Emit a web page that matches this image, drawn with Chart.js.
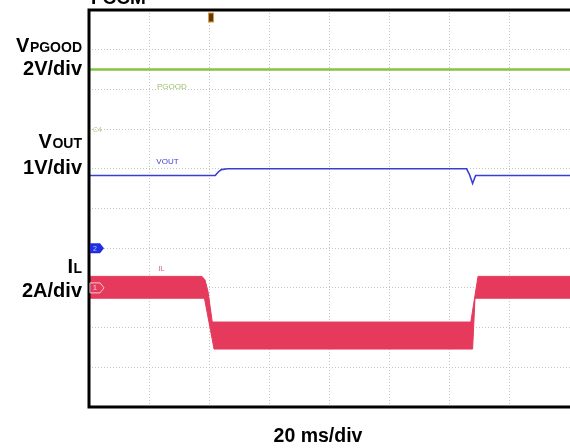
<!DOCTYPE html>
<html>
<head>
<meta charset="utf-8">
<script src="https://cdn.jsdelivr.net/npm/chart.js@4.4.1/dist/chart.umd.min.js"></script>
<style>
  html, body { margin: 0; padding: 0; background: #fff; }
  #wrap { width: 570px; height: 448px; }
</style>
</head>
<body>
<div id="wrap"><canvas id="scope" width="570" height="448"></canvas></div>
<script>
// time in screen divisions (20 ms/div), levels in screen divisions from the bottom
const pgoodTime = [0, 8];
const pgoodLevel = [8.5, 8.5];

const voutTime = [0, 2.1, 2.15, 2.2, 2.3, 6.28, 6.33, 6.38, 6.43, 8];
const voutLevel = [5.83, 5.83, 5.92, 5.98, 6.0, 6.0, 5.85, 5.63, 5.83, 5.83];

const ilTopTime = [0, 1.88, 1.93, 1.98, 2.05, 6.35, 6.47, 8];
const ilTopLevel = [3.29, 3.29, 3.2, 2.9, 2.14, 2.14, 3.29, 3.29];
const ilBottomTime = [0, 1.92, 2.08, 6.38, 6.42, 8];
const ilBottomLevel = [2.74, 2.74, 1.46, 1.46, 2.74, 2.74];

const channelMain = ['V', 'V', 'I'];
const channelSub = ['PGOOD', 'OUT', 'L'];
const channelScale = ['2V/div', '1V/div', '2A/div'];
const timeScale = '20 ms/div';
const modeTitle = 'FCCM';

const GREEN = '#84c441';
const BLUE = '#3a3fd0';
const RED = '#e63a5c';

const pts = (t, v) => t.map((x, i) => ({ x: x, y: v[i] }));

// frame, side labels and scope markers
const scopeDecor = {
  id: 'scopeDecor',
  afterDraw(chart) {
    const ctx = chart.ctx;
    const a = chart.chartArea;
    const xs = chart.scales.x, ys = chart.scales.y;
    ctx.save();

    ctx.strokeStyle = '#000';
    ctx.lineWidth = 3;
    ctx.beginPath();
    ctx.moveTo(a.right + 5, a.top);
    ctx.lineTo(a.left, a.top);
    ctx.lineTo(a.left, a.bottom);
    ctx.lineTo(a.right + 5, a.bottom);
    ctx.stroke();

    // cut-off title at the very top
    ctx.fillStyle = '#000';
    ctx.font = 'bold 19px "Liberation Sans", Arial, sans-serif';
    ctx.textAlign = 'left';
    ctx.textBaseline = 'alphabetic';
    ctx.fillText(modeTitle, 91, 4);

    // channel names and scales on the left
    const nameY = [52, 148, 273];
    const scaleY = [75, 174, 297];
    const rx = 82;
    for (let i = 0; i < channelMain.length; i++) {
      ctx.textAlign = 'right';
      ctx.font = 'bold 14px "Liberation Sans", Arial, sans-serif';
      const subW = ctx.measureText(channelSub[i]).width;
      ctx.fillText(channelSub[i], rx, nameY[i]);
      ctx.font = 'bold 20px "Liberation Sans", Arial, sans-serif';
      ctx.fillText(channelMain[i], rx - subW - 0.5, nameY[i]);
      ctx.fillText(channelScale[i], rx, scaleY[i]);
    }

    ctx.textAlign = 'center';
    ctx.font = 'bold 19.5px "Liberation Sans", Arial, sans-serif';
    ctx.fillText(timeScale, 318, 442);

    // trace names inside the screen
    ctx.textAlign = 'left';
    ctx.font = '8px "Liberation Sans", Arial, sans-serif';
    ctx.fillStyle = '#9cc46a';
    ctx.fillText('PGOOD', xs.getPixelForValue(1.13), ys.getPixelForValue(8.0));
    ctx.fillStyle = BLUE;
    ctx.fillText('VOUT', xs.getPixelForValue(1.12), ys.getPixelForValue(6.13));
    ctx.fillStyle = '#d76b84';
    ctx.fillText('IL', xs.getPixelForValue(1.15), ys.getPixelForValue(3.43));

    // channel ground markers
    const marker = (yv, fill, stroke, txt, txtColor) => {
      const x0 = a.left + 1, y0 = ys.getPixelForValue(yv);
      ctx.beginPath();
      ctx.moveTo(x0, y0 - 5);
      ctx.lineTo(x0 + 10, y0 - 5);
      ctx.lineTo(x0 + 14, y0);
      ctx.lineTo(x0 + 10, y0 + 5);
      ctx.lineTo(x0, y0 + 5);
      ctx.closePath();
      if (fill) { ctx.fillStyle = fill; ctx.fill(); }
      if (stroke) { ctx.strokeStyle = stroke; ctx.lineWidth = 1; ctx.stroke(); }
      ctx.fillStyle = txtColor;
      ctx.font = '7px "Liberation Sans", Arial, sans-serif';
      ctx.textBaseline = 'middle';
      ctx.fillText(txt, x0 + 3, y0 + 0.5);
      ctx.textBaseline = 'alphabetic';
    };
    marker(7, null, null, 'C4', '#b9c98a');
    marker(4, '#1f2fe0', null, '2', '#c8ccff');
    marker(3, null, '#f6c9d3', '1', '#f6d4dc');

    // trigger position marker
    const tx = xs.getPixelForValue(2.03);
    ctx.fillStyle = '#5b3a12';
    ctx.strokeStyle = '#e39a3a';
    ctx.lineWidth = 1;
    ctx.fillRect(tx - 2.5, a.top + 3, 5, 9);
    ctx.strokeRect(tx - 2.5, a.top + 3, 5, 9);

    ctx.restore();
  }
};

new Chart(document.getElementById('scope'), {
  type: 'line',
  data: {
    datasets: [
      { data: pts(pgoodTime, pgoodLevel), borderColor: GREEN, borderWidth: 2.5, pointRadius: 0, fill: false },
      { data: pts(voutTime, voutLevel), borderColor: BLUE, borderWidth: 1.6, pointRadius: 0, fill: false },
      { data: pts(ilTopTime, ilTopLevel), borderColor: RED, backgroundColor: RED, borderWidth: 1, pointRadius: 0, fill: '+1' },
      { data: pts(ilBottomTime, ilBottomLevel), borderColor: RED, borderWidth: 1, pointRadius: 0, fill: false }
    ]
  },
  options: {
    responsive: false,
    animation: false,
    events: [],
    layout: { padding: { left: 89, top: 10, right: 0, bottom: 41 } },
    plugins: { legend: { display: false }, tooltip: { enabled: false } },
    scales: {
      x: {
        type: 'linear', min: 0, max: 8,
        ticks: { display: false, stepSize: 1 },
        grid: { color: '#c4c4c4', lineWidth: 1, drawTicks: false },
        border: { display: false, dash: [1, 2] },
        afterFit: s => { s.height = 0; }
      },
      y: {
        type: 'linear', min: 0, max: 10,
        ticks: { display: false, stepSize: 1 },
        grid: { color: '#c4c4c4', lineWidth: 1, drawTicks: false },
        border: { display: false, dash: [1, 2] },
        afterFit: s => { s.width = 0; }
      }
    }
  },
  plugins: [scopeDecor]
});
</script>
</body>
</html>
